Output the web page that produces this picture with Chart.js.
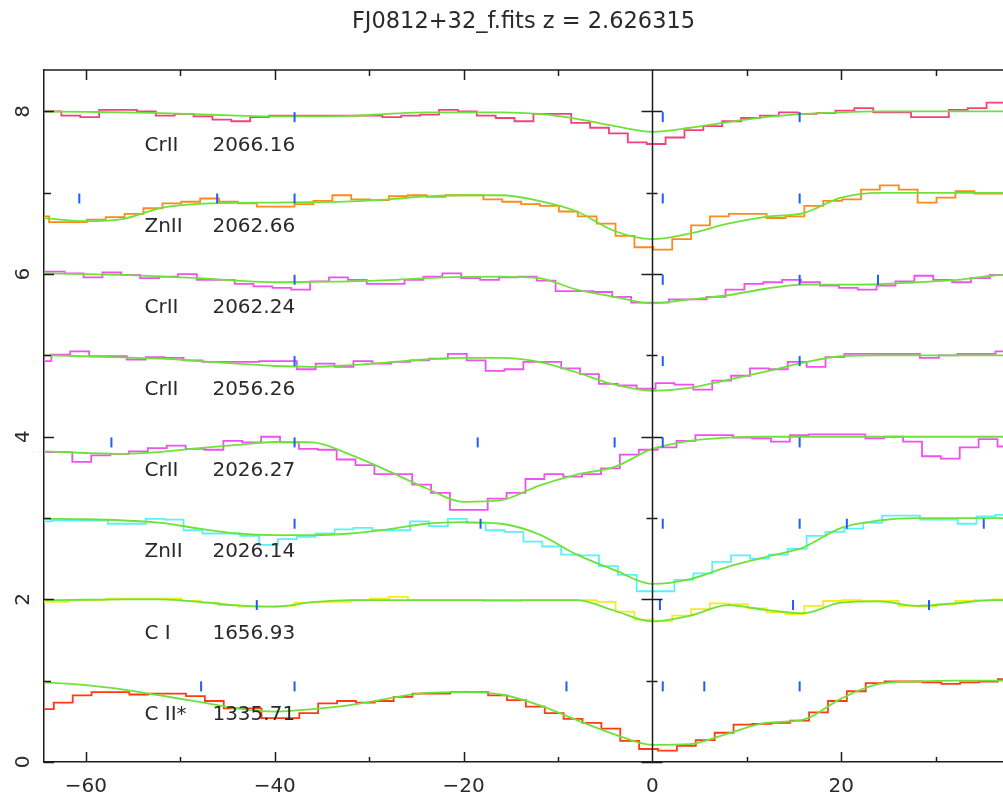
<!DOCTYPE html>
<html>
<head>
<meta charset="utf-8">
<title>FJ0812+32 velocity stack</title>
<script src="https://cdn.jsdelivr.net/npm/chart.js@4.4.1/dist/chart.umd.min.js"></script>
<style>
  html, body { margin: 0; padding: 0; background: #fff; }
  #wrap { width: 1003px; height: 795px; }
</style>
</head>
<body>
<div id="wrap"><canvas id="velChart" width="1003" height="795"></canvas></div>
<script>
// Panels, top to bottom
const ions = ['CrII', 'ZnII', 'CrII', 'CrII', 'CrII', 'ZnII', 'C I', 'C II*'];
const restWaves = ['2066.16', '2062.66', '2062.24', '2056.26', '2026.27', '2026.14', '1656.93', '1335.71'];
const baseLevels = [7, 6, 5, 4, 3, 2, 1, 0];

// centre (km/s) of the first pixel shown in each panel, pixels are 2 km/s wide
const binStart = [-63.6, -64.9, -63.25, -64.66, -64.44, -64.66, -64.9, -64.4];
const binWidth = 2.0;

// normalised flux per pixel
const fluxCr2066 = [1.00, 0.95, 0.93, 1.02, 1.02, 1.00, 0.95, 0.97, 0.94, 0.90,
  0.88, 0.93, 0.95, 0.95, 0.95, 0.95, 0.95, 0.95, 0.93, 0.95,
  0.96, 1.02, 1.00, 0.95, 0.92, 0.88, 0.97, 0.97, 0.86, 0.80,
  0.73, 0.62, 0.60, 0.68, 0.77, 0.82, 0.88, 0.92, 0.95, 0.99,
  0.97, 0.98, 1.01, 1.04, 0.99, 0.99, 0.93, 0.93, 1.02, 1.04, 1.11];
const fluxZn2062 = [0.71, 0.64, 0.64, 0.67, 0.70, 0.74, 0.81, 0.87, 0.89, 0.93,
  0.89, 0.87, 0.83, 0.83, 0.86, 0.90, 0.97, 0.92, 0.91, 0.96,
  0.97, 0.95, 0.97, 0.97, 0.92, 0.89, 0.86, 0.84, 0.77, 0.71,
  0.62, 0.47, 0.33, 0.30, 0.43, 0.60, 0.71, 0.74, 0.74, 0.69,
  0.71, 0.84, 0.90, 0.92, 1.04, 1.09, 1.04, 0.88, 0.94, 1.02, 0.99, 0.99];
const fluxCr2062 = [1.03, 1.01, 0.96, 1.02, 0.99, 0.95, 0.97, 1.00, 0.93, 0.93,
  0.88, 0.85, 0.83, 0.81, 0.91, 0.96, 0.93, 0.88, 0.88, 0.93,
  0.97, 1.01, 0.95, 0.93, 0.96, 0.97, 0.92, 0.79, 0.79, 0.78,
  0.72, 0.65, 0.65, 0.69, 0.69, 0.72, 0.81, 0.88, 0.90, 0.93,
  0.90, 0.86, 0.83, 0.81, 0.86, 0.91, 0.98, 0.93, 0.90, 0.95, 0.99];
const fluxCr2056 = [0.93, 1.01, 1.05, 0.99, 0.99, 0.95, 0.98, 0.97, 0.94, 0.92,
  0.92, 0.92, 0.93, 0.93, 0.83, 0.90, 0.86, 0.93, 0.90, 0.92,
  0.94, 0.96, 1.02, 0.94, 0.81, 0.83, 0.92, 0.92, 0.84, 0.77,
  0.65, 0.63, 0.59, 0.66, 0.64, 0.58, 0.69, 0.75, 0.84, 0.83,
  0.92, 0.86, 0.98, 1.02, 1.02, 1.02, 1.02, 0.97, 1.00, 1.02, 1.02, 1.05];
const fluxCr2026 = [0.81, 0.81, 0.69, 0.77, 0.79, 0.82, 0.86, 0.89, 0.85, 0.84,
  0.95, 0.93, 1.00, 0.93, 0.85, 0.84, 0.72, 0.65, 0.54, 0.54,
  0.41, 0.31, 0.10, 0.10, 0.24, 0.31, 0.48, 0.54, 0.51, 0.54,
  0.61, 0.78, 0.84, 0.87, 0.95, 1.02, 1.02, 0.99, 0.98, 0.94,
  1.02, 1.03, 1.03, 1.03, 0.98, 1.00, 0.94, 0.76, 0.73, 0.87, 0.97, 0.88];
const fluxZn2026 = [0.96, 0.97, 0.97, 0.97, 0.93, 0.93, 0.99, 0.98, 0.85, 0.81,
  0.81, 0.78, 0.67, 0.74, 0.77, 0.81, 0.86, 0.88, 0.85, 0.85,
  0.96, 0.90, 0.99, 0.94, 0.85, 0.83, 0.71, 0.65, 0.55, 0.54,
  0.41, 0.30, 0.10, 0.10, 0.24, 0.32, 0.46, 0.54, 0.50, 0.55,
  0.62, 0.78, 0.83, 0.87, 0.94, 1.03, 1.03, 0.98, 0.98, 0.93, 1.02, 1.04];
const fluxC1656 = [0.97, 0.97, 0.99, 0.99, 1.01, 1.01, 1.01, 1.01, 0.98, 0.96,
  0.93, 0.91, 0.91, 0.92, 0.96, 0.97, 0.97, 0.99, 1.01, 1.03,
  0.99, 0.99, 0.99, 0.99, 0.98, 0.98, 0.99, 0.99, 0.99, 0.99,
  0.97, 0.85, 0.75, 0.73, 0.80, 0.88, 0.95, 0.94, 0.89, 0.84,
  0.82, 0.92, 0.98, 0.99, 0.98, 0.98, 0.92, 0.91, 0.94, 0.98, 0.99, 1.00];
const fluxC1335 = [0.65, 0.73, 0.82, 0.86, 0.86, 0.83, 0.84, 0.84, 0.81, 0.75,
  0.66, 0.66, 0.54, 0.54, 0.60, 0.72, 0.75, 0.73, 0.75, 0.80,
  0.84, 0.84, 0.86, 0.86, 0.82, 0.76, 0.68, 0.60, 0.53, 0.48,
  0.41, 0.26, 0.16, 0.14, 0.20, 0.27, 0.36, 0.46, 0.47, 0.48,
  0.51, 0.61, 0.75, 0.87, 0.97, 0.99, 0.99, 0.98, 0.96, 0.98, 0.99, 1.02];

// model profiles, sampled at fitVel
const fitVel = [-64.5, -60, -56, -52, -48, -44, -40, -36, -32, -28, -24, -20, -16, -12,
  -8, -4, 0, 4, 8, 12, 16, 20, 24, 28, 32, 36, 37.2];
const fitCr2066 = [1.00, 0.995, 0.99, 0.98, 0.965, 0.95, 0.94, 0.94, 0.945, 0.97, 0.99, 0.99, 0.99, 0.97,
  0.91, 0.82, 0.75, 0.80, 0.87, 0.93, 0.97, 0.99, 1.00, 1.00, 1.00, 1.00, 1.00];
const fitZn2062 = [0.69, 0.65, 0.68, 0.815, 0.865, 0.875, 0.88, 0.885, 0.895, 0.92, 0.955, 0.97, 0.97, 0.90,
  0.77, 0.53, 0.43, 0.50, 0.62, 0.705, 0.75, 0.94, 1.00, 1.00, 1.00, 1.00, 1.00];
const fitCr2062 = [1.01, 1.00, 0.99, 0.97, 0.95, 0.92, 0.90, 0.905, 0.91, 0.925, 0.95, 0.965, 0.97, 0.95,
  0.81, 0.72, 0.64, 0.69, 0.74, 0.82, 0.87, 0.87, 0.875, 0.90, 0.925, 0.98, 0.99];
const fitCr2056 = [1.00, 0.99, 0.975, 0.96, 0.93, 0.90, 0.87, 0.86, 0.88, 0.915, 0.95, 0.97, 0.97, 0.92,
  0.79, 0.64, 0.565, 0.60, 0.70, 0.80, 0.91, 0.99, 1.00, 1.00, 1.00, 1.00, 1.00];
const fitCr2026 = [0.82, 0.80, 0.79, 0.815, 0.86, 0.90, 0.935, 0.93, 0.78, 0.58, 0.37, 0.20, 0.22, 0.40,
  0.535, 0.63, 0.85, 0.95, 0.99, 1.00, 1.00, 1.00, 1.00, 1.00, 1.00, 1.00, 1.00];
const fitZn2026 = [0.99, 0.985, 0.97, 0.94, 0.87, 0.81, 0.79, 0.79, 0.81, 0.86, 0.93, 0.95, 0.93, 0.80,
  0.55, 0.36, 0.19, 0.25, 0.40, 0.52, 0.64, 0.88, 0.97, 1.00, 1.00, 1.00, 1.00];
const fitC1656 = [0.99, 0.995, 1.00, 1.00, 0.97, 0.925, 0.91, 0.965, 0.99, 0.99, 0.99, 0.99, 0.99, 0.99,
  0.99, 0.86, 0.73, 0.80, 0.93, 0.87, 0.83, 0.96, 0.975, 0.92, 0.95, 0.99, 0.99];
const fitC1335 = [0.98, 0.945, 0.89, 0.815, 0.74, 0.66, 0.62, 0.65, 0.70, 0.78, 0.85, 0.86, 0.83, 0.70,
  0.515, 0.34, 0.21, 0.22, 0.35, 0.48, 0.52, 0.78, 0.96, 0.99, 1.00, 1.00, 1.00];

// component velocities (km/s), blue markers
const compCr2066 = [-37.9, 1.1, 15.6];
const compZn2062 = [-60.7, -46.1, -37.9, 1.1, 15.6];
const compCr2062 = [-37.9, 1.1, 15.6, 23.9];
const compCr2056 = [-37.9, 1.1, 15.6];
const compCr2026 = [-57.3, -37.9, -18.5, -4.0, 1.1, 15.6];
const compZn2026 = [-37.9, -18.2, 1.1, 15.6, 20.6, 35.1];
const compC1656 = [-41.9, 0.8, 14.9, 29.3];
const compC1335 = [-47.8, -37.9, -9.1, 1.1, 5.5, 15.6];

// axis labels
const xMajor = [-60, -40, -20, 0, 20];
const yMajor = [0, 2, 4, 6, 8];

const dataColors = ['#f4407f', '#ff8a1c', '#f050f0', '#f050f0', '#f050f0', '#5af2f7', '#f2ee1e', '#ff3a14'];
const fitColor = '#6fe23a';
const compColor = '#1f5cff';
const inkColor = '#1c1c1c';
const FONT = 'DejaVu Sans';

const fluxSets = [fluxCr2066, fluxZn2062, fluxCr2062, fluxCr2056, fluxCr2026, fluxZn2026, fluxC1656, fluxC1335];
const fitSets = [fitCr2066, fitZn2062, fitCr2062, fitCr2056, fitCr2026, fitZn2026, fitC1656, fitC1335];
const compSets = [compCr2066, compZn2062, compCr2062, compCr2056, compCr2026, compZn2026, compC1656, compC1335];

// histogram points; the end pixels are repeated one step further out so
// the 'middle' stepping draws the edge pixels at full width
function histPoints(start, values, base) {
    const pts = values.map((f, i) => ({ x: start + i * binWidth, y: base + f }));
    pts.unshift({ x: start - binWidth, y: base + values[0] });
    pts.push({ x: start + values.length * binWidth, y: base + values[values.length - 1] });
    return pts;
}

const datasets = [];
baseLevels.forEach((base, p) => {
    datasets.push({
        label: ions[p] + ' ' + restWaves[p],
        data: histPoints(binStart[p], fluxSets[p], base),
        stepped: 'middle',
        borderColor: dataColors[p],
        borderWidth: 1.8,
        pointRadius: 0,
        order: 2
    });
    datasets.push({
        label: 'fit ' + restWaves[p],
        data: fitVel.map((v, i) => ({ x: v, y: base + fitSets[p][i] })),
        borderColor: fitColor,
        borderWidth: 1.8,
        pointRadius: 0,
        cubicInterpolationMode: 'monotone',
        order: 1
    });
    datasets.push({
        label: 'comp ' + restWaves[p],
        data: compSets[p].map(v => ({ x: v, y: base + 1 - 0.07 })),
        showLine: false,
        pointStyle: 'line',
        pointRotation: 90,
        pointRadius: 5,
        pointBorderColor: compColor,
        pointBorderWidth: 2,
        order: 0
    });
});

// frame, inward ticks, zero-velocity line and line identifications
const framePlugin = {
    id: 'frame',
    afterDatasetsDraw(chart) {
        const { ctx, chartArea: a, scales: { x, y } } = chart;
        ctx.save();
        ctx.strokeStyle = inkColor;
        ctx.lineWidth = 1.5;
        ctx.beginPath();
        ctx.moveTo(a.left, a.top);
        ctx.lineTo(a.right, a.top);
        for (let v = -60; v <= 30; v += 10) {
            const px = Math.round(x.getPixelForValue(v)) + 0.5;
            const major = v % 20 === 0;
            ctx.moveTo(px, a.bottom);
            ctx.lineTo(px, a.bottom - (major ? 10 : 5));
            ctx.moveTo(px, a.top);
            ctx.lineTo(px, a.top + (major ? 10 : 6));
        }
        const zx = Math.round(x.getPixelForValue(0)) + 0.5;
        for (let v = 0; v <= 8; v++) {
            const py = Math.round(y.getPixelForValue(v)) + 0.5;
            const major = v % 2 === 0;
            ctx.moveTo(a.left, py);
            ctx.lineTo(a.left + (major ? 10 : 7), py);
            ctx.moveTo(zx - (major ? 11 : 6), py);
            ctx.lineTo(zx + (major ? 10 : 5), py);
        }
        ctx.moveTo(zx, a.top);
        ctx.lineTo(zx, a.bottom);
        ctx.stroke();

        ctx.fillStyle = '#2a2a2a';
        ctx.font = '20px "' + FONT + '"';
        ctx.textBaseline = 'middle';
        ctx.textAlign = 'left';
        baseLevels.forEach((base, p) => {
            const py = y.getPixelForValue(base + 1 - 0.42);
            ctx.fillText(ions[p], x.getPixelForValue(-53.8), py);
            ctx.fillText(restWaves[p], x.getPixelForValue(-46.6), py);
        });
        ctx.restore();
    }
};

new Chart(document.getElementById('velChart'), {
    type: 'line',
    data: { datasets },
    options: {
        responsive: false,
        devicePixelRatio: 1,
        animation: false,
        events: [],
        layout: { padding: 0, autoPadding: false },
        plugins: {
            legend: { display: false },
            tooltip: { enabled: false },
            title: {
                display: true,
                fullSize: false,
                text: 'FJ0812+32_f.fits z = 2.626315',
                color: '#2a2a2a',
                font: { family: FONT, size: 22.5, weight: 'normal' },
                padding: { top: 9, bottom: 34 }
            }
        },
        scales: {
            x: {
                type: 'linear',
                min: -64.44,
                max: 37.14,
                border: { display: true, color: inkColor, width: 1.5 },
                grid: { display: false, drawTicks: false },
                ticks: {
                    stepSize: 10,
                    includeBounds: false,
                    autoSkip: false,
                    maxRotation: 0,
                    padding: 13,
                    color: '#2a2a2a',
                    font: { family: FONT, size: 20 },
                    callback: v => xMajor.includes(v) ? (v < 0 ? '\u2212' + Math.abs(v) : String(v)) : ''
                },
                afterFit: s => { s.height = 33; s.paddingLeft = 0; s.paddingRight = 0; }
            },
            y: {
                type: 'linear',
                min: 0,
                max: 8.51,
                border: { display: true, color: inkColor, width: 1.5 },
                grid: { display: false, drawTicks: false },
                ticks: {
                    stepSize: 1,
                    includeBounds: false,
                    autoSkip: false,
                    minRotation: 90,
                    maxRotation: 90,
                    crossAlign: 'center',
                    padding: 14,
                    color: '#2a2a2a',
                    font: { family: FONT, size: 20 },
                    callback: v => yMajor.includes(v) ? String(v) : ''
                },
                afterFit: s => { s.width = 44; s.paddingTop = 0; s.paddingBottom = 0; }
            }
        }
    },
    plugins: [framePlugin]
});
</script>
</body>
</html>
